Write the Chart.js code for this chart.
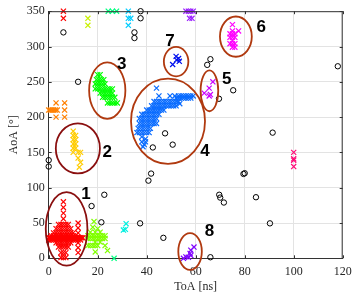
<!DOCTYPE html>
<html>
<head>
<meta charset="utf-8">
<script src="https://cdn.jsdelivr.net/npm/chart.js@4"></script>
<style>
  html, body { margin: 0; padding: 0; background: #fff; }
  canvas { display: block; }
</style>
</head>
<body>
<canvas id="toaChart" width="358" height="297"></canvas>
<script>
// axis ticks
const X_TICKS = [0, 20, 40, 60, 80, 100, 120];
const Y_TICKS = [0, 50, 100, 150, 200, 250, 300, 350];

// dense clusters are kept as rows: [AoA, [ToA, ...]]
const redRows = [
  [80, [6]], [72, [6]], [64, [6]], [56, [6]],
  [50, [12]],
  [48, [4, 5, 6, 7, 8]],
  [43, [12]],
  [42, [3, 4, 5, 6, 7, 8, 9]],
  [36, [2, 3, 4, 5, 6, 7, 8, 9, 10, 12]],
  [32, [1, 2, 3, 4, 5, 6, 7, 8, 9, 10, 11]],
  [29, [0, 0.5, 1, 1.5, 2, 2.5, 3, 3.5, 4, 4.5, 5, 5.5, 6, 6.5, 7, 7.5, 8, 8.5, 9, 9.5, 10, 10.5, 11, 11.5, 12, 12.5, 13, 13.5, 14]],
  [26, [0, 1, 2, 3, 4, 5, 6, 7, 8, 9, 10, 11, 12, 13]],
  [22, [3, 4, 5, 6, 7, 8, 9, 12]],
  [16, [4, 5, 6, 7, 8]],
  [15, [12]],
  [8, [5, 6, 7, 12]],
  [1, [5, 6, 7]],
  [350, [6]], [340, [6]]
];

const blueRows = [
  [241, [44]],
  [230, [45, 49.5, 51.5, 53, 54, 55, 56, 57, 58, 59]],
  [227, [52, 53, 54, 55, 56, 57, 58]],
  [222, [43, 44, 45, 46, 47, 48, 49, 50, 51, 52, 53]],
  [219, [53.5]],
  [216, [42, 43, 44, 45, 46, 47, 48, 49, 50, 51, 52]],
  [210, [40, 41, 42, 43, 44, 45, 46, 47]],
  [204, [38, 39, 40, 41, 42, 43, 44, 45]],
  [198, [37, 38, 39, 40, 41, 42, 43, 44]],
  [191, [37, 38, 39, 40, 41, 42, 43, 44]],
  [184, [36.5, 37.5, 38.5, 39.5, 40.5, 41.5]],
  [178, [36, 37, 38, 39, 40, 41]],
  [172, [38]], [169, [39.5]], [165, [38, 39.5]], [161, [39]], [158, [38.5]]
];

const greenRows = [
  [260, [20, 21]],
  [253, [19.5, 20.5, 21.5, 22.5]],
  [247, [19, 20, 21, 22, 23]],
  [240, [19, 20, 21, 22, 23, 24, 25, 26]],
  [234, [21, 22, 23, 24, 25, 26]],
  [228, [22, 23, 24, 25, 26, 27]],
  [220, [24, 25, 26, 27, 28]]
];

// sparse clusters as [ToA, AoA] pairs
const orangePts = [[0, 210], [0.7, 210], [1.4, 210], [2.1, 210], [2.8, 210], [3.5, 210],
  [3, 220], [6.5, 220], [6.5, 210], [3, 200], [6.5, 200]];
const goldPts = [[10, 180], [10, 174], [11, 174], [10, 168], [11, 168], [10, 162], [11, 162],
  [10, 156], [11, 156], [10, 150], [12, 150], [13, 150], [12, 142], [13, 136], [12.5, 129]];
const yellowGreenPts = [[16, 340], [16, 330]];
const limePts = [[18.5, 52], [18, 44], [20, 42], [17, 37], [19, 37], [21, 37],
  [16, 32], [17, 32], [18, 32], [19, 32], [20, 32], [21, 32], [22, 32], [23, 32],
  [16, 28], [17, 28], [18, 28], [19, 28], [20, 28], [21, 28], [22, 28], [23, 28],
  [19, 23], [21, 23], [16, 18], [17, 18], [18, 18], [19, 18], [20, 18], [23, 18],
  [24, 11], [19, 9]];
const springPts = [[24.3, 350], [26, 350], [27.7, 350], [26.7, 0]];
const cyanPts = [[31.6, 49], [30.5, 40], [31.3, 41]];
const skyPts = [[32.5, 350], [32.5, 340], [33.5, 340], [32.5, 330]];
const bluePts7 = [[52, 286], [53.3, 279], [50.6, 274.5], [52.2, 281], [53, 283]];
const violetPts8 = [[55, 0], [56, 2], [57, 1.5], [58, 4], [57.7, 7], [58, 11.5], [59.3, 16]];
const purpleTopPts = [[56, 350], [57, 350], [58, 350], [59, 350], [57.5, 340], [58.5, 340]];
const orchidPts5 = [[67, 250], [65.5, 241], [63.5, 234], [65.5, 230], [66, 232]];
const magentaPts6 = [[75, 331], [75, 322], [77.5, 322], [74, 318], [75, 318], [76, 318],
  [74, 313], [75, 313], [76, 313], [75, 308], [74, 304], [75, 304], [76, 304], [75, 299], [76, 299]];
const pinkPts = [[100, 150], [100, 141], [100, 139], [100, 130]];

const circlePts = [[6, 320], [12, 250], [35, 320], [35, 312], [37.5, 350], [37.5, 340],
  [0, 139], [0, 130], [22.7, 90], [17.5, 74], [21.5, 51], [37.3, 49.5], [46.8, 29],
  [41.8, 120], [40.7, 110], [47.5, 177], [50.6, 161], [42.5, 157], [66, 282], [64.7, 274],
  [75.3, 238], [69.5, 226], [118, 272], [91.4, 178], [79.5, 119.5], [80, 120.5],
  [69.6, 90], [70, 86], [71.5, 79], [84.6, 86.5], [90.3, 49.5], [66, 1.5]];

// marked groups: [label, ToA centre, AoA centre, ToA radius, AoA radius, label ToA, label AoA]
const groups = [
  ['1', 7.3, 41.7, 8.5, 52, 15.2, 90],
  ['2', 11.9, 155.7, 9.0, 35.4, 23.9, 150],
  ['3', 23.9, 237.6, 7.4, 40, 29.8, 275],
  ['4', 48.7, 194.2, 15.1, 60.4, 63.8, 151],
  ['5', 65.6, 237.2, 3.6, 28.9, 72.7, 253],
  ['6', 76.4, 314, 6.5, 28.5, 86.7, 327],
  ['7', 52.0, 278.6, 5.0, 20.8, 49.5, 308],
  ['8', 57.7, 9.7, 4.8, 26, 65.6, 38]
];

function fromRows(rows) {
  const out = [];
  rows.forEach(([y, xs]) => xs.forEach(x => out.push({ x, y })));
  return out;
}
function fromPairs(pts) {
  return pts.map(([x, y]) => ({ x, y }));
}

function crossSet(data, color) {
  return {
    data,
    pointStyle: 'crossRot',
    pointRadius: 3.6,
    pointBorderWidth: 1.2,
    borderColor: color,
    backgroundColor: color,
    showLine: false,
    clip: false
  };
}

/** Draws the marked ellipses, their numbers, the box and inner tick marks. */
const overlayPlugin = {
  id: 'overlay',
  afterDatasetsDraw(chart) {
    const { ctx, chartArea: a, scales: { x, y } } = chart;
    ctx.save();

    // box and inward tick marks
    ctx.strokeStyle = '#333';
    ctx.lineWidth = 1;
    ctx.beginPath();
    ctx.moveTo(a.left, a.top + 0.5); ctx.lineTo(a.right, a.top + 0.5);
    ctx.moveTo(a.right - 0.5, a.top); ctx.lineTo(a.right - 0.5, a.bottom);
    X_TICKS.forEach(v => {
      const px = Math.round(x.getPixelForValue(v)) + 0.5;
      ctx.moveTo(px, a.bottom); ctx.lineTo(px, a.bottom - 3);
      ctx.moveTo(px, a.top); ctx.lineTo(px, a.top + 3);
    });
    Y_TICKS.forEach(v => {
      const py = Math.round(y.getPixelForValue(v)) + 0.5;
      ctx.moveTo(a.left, py); ctx.lineTo(a.left + 3, py);
      ctx.moveTo(a.right, py); ctx.lineTo(a.right - 3, py);
    });
    ctx.stroke();

    groups.forEach(([label, cx, cy, rx, ry, lx, ly], i) => {
      const px = x.getPixelForValue(cx);
      const py = y.getPixelForValue(cy);
      const rpx = Math.abs(x.getPixelForValue(cx + rx) - px);
      const rpy = Math.abs(y.getPixelForValue(cy + ry) - py);
      ctx.strokeStyle = i < 2 ? '#8a0f0f' : '#b0390f';
      ctx.lineWidth = 1.8;
      ctx.beginPath();
      ctx.ellipse(px, py, rpx, rpy, 0, 0, Math.PI * 2);
      ctx.stroke();

      ctx.fillStyle = '#000';
      ctx.font = 'bold 17px "Liberation Sans", Arial, sans-serif';
      ctx.textAlign = 'center';
      ctx.textBaseline = 'middle';
      ctx.fillText(label, x.getPixelForValue(lx), y.getPixelForValue(ly));
    });
    ctx.restore();
  }
};

const tickFont = { family: '"Liberation Serif", "Times New Roman", serif', size: 12 };

new Chart(document.getElementById('toaChart').getContext('2d'), {
  type: 'scatter',
  data: {
    datasets: [
      crossSet(fromRows(redRows), '#ff0000'),
      crossSet(fromPairs(orangePts), '#ff8000'),
      crossSet(fromPairs(goldPts), '#ffcc00'),
      crossSet(fromPairs(yellowGreenPts), '#c8f000'),
      crossSet(fromPairs(limePts), '#80ff00'),
      crossSet(fromRows(greenRows), '#00ff00'),
      crossSet(fromPairs(springPts), '#00ff80'),
      crossSet(fromPairs(cyanPts), '#00f0e0'),
      crossSet(fromPairs(skyPts), '#00ccff'),
      crossSet(fromRows(blueRows), '#0a6cff'),
      crossSet(fromPairs(bluePts7), '#0010ee'),
      crossSet(fromPairs(violetPts8), '#7f00ff'),
      crossSet(fromPairs(purpleTopPts), '#9a1fff'),
      crossSet(fromPairs(orchidPts5), '#cc00ff'),
      crossSet(fromPairs(magentaPts6), '#ff00ff'),
      crossSet(fromPairs(pinkPts), '#ff0a78'),
      {
        data: fromPairs(circlePts),
        pointStyle: 'circle',
        pointRadius: 2.7,
        pointBorderWidth: 1,
        borderColor: '#000',
        backgroundColor: 'rgba(0,0,0,0)',
        showLine: false,
        clip: false
      }
    ]
  },
  options: {
    responsive: false,
    animation: false,
    devicePixelRatio: 1,
    layout: { padding: { left: 0, right: 15.3, top: 6, bottom: 0 } },
    plugins: { legend: { display: false }, tooltip: { enabled: false } },
    scales: {
      x: {
        type: 'linear',
        min: 0, max: 120,
        afterBuildTicks: s => { s.ticks = X_TICKS.map(v => ({ value: v })); },
        afterFit: s => { s.height = 38.7; },
        ticks: { font: tickFont, color: '#262626', padding: 6, maxRotation: 0 },
        grid: { color: '#e3e3e3', drawTicks: false },
        border: { color: '#333', width: 1 },
        title: { display: true, text: 'ToA [ns]', font: tickFont, color: '#262626', padding: { top: 0, bottom: 3 } }
      },
      y: {
        type: 'linear',
        min: 0, max: 350,
        afterBuildTicks: s => { s.ticks = Y_TICKS.map(v => ({ value: v })); },
        afterFit: s => { s.width = 48.7; },
        ticks: { font: tickFont, color: '#262626', padding: 4 },
        grid: { color: '#e3e3e3', drawTicks: false },
        border: { color: '#333', width: 1 },
        title: { display: true, text: 'AoA [°]', font: tickFont, color: '#262626', padding: { top: 7, bottom: 0 } }
      }
    }
  },
  plugins: [overlayPlugin]
});
</script>
</body>
</html>
